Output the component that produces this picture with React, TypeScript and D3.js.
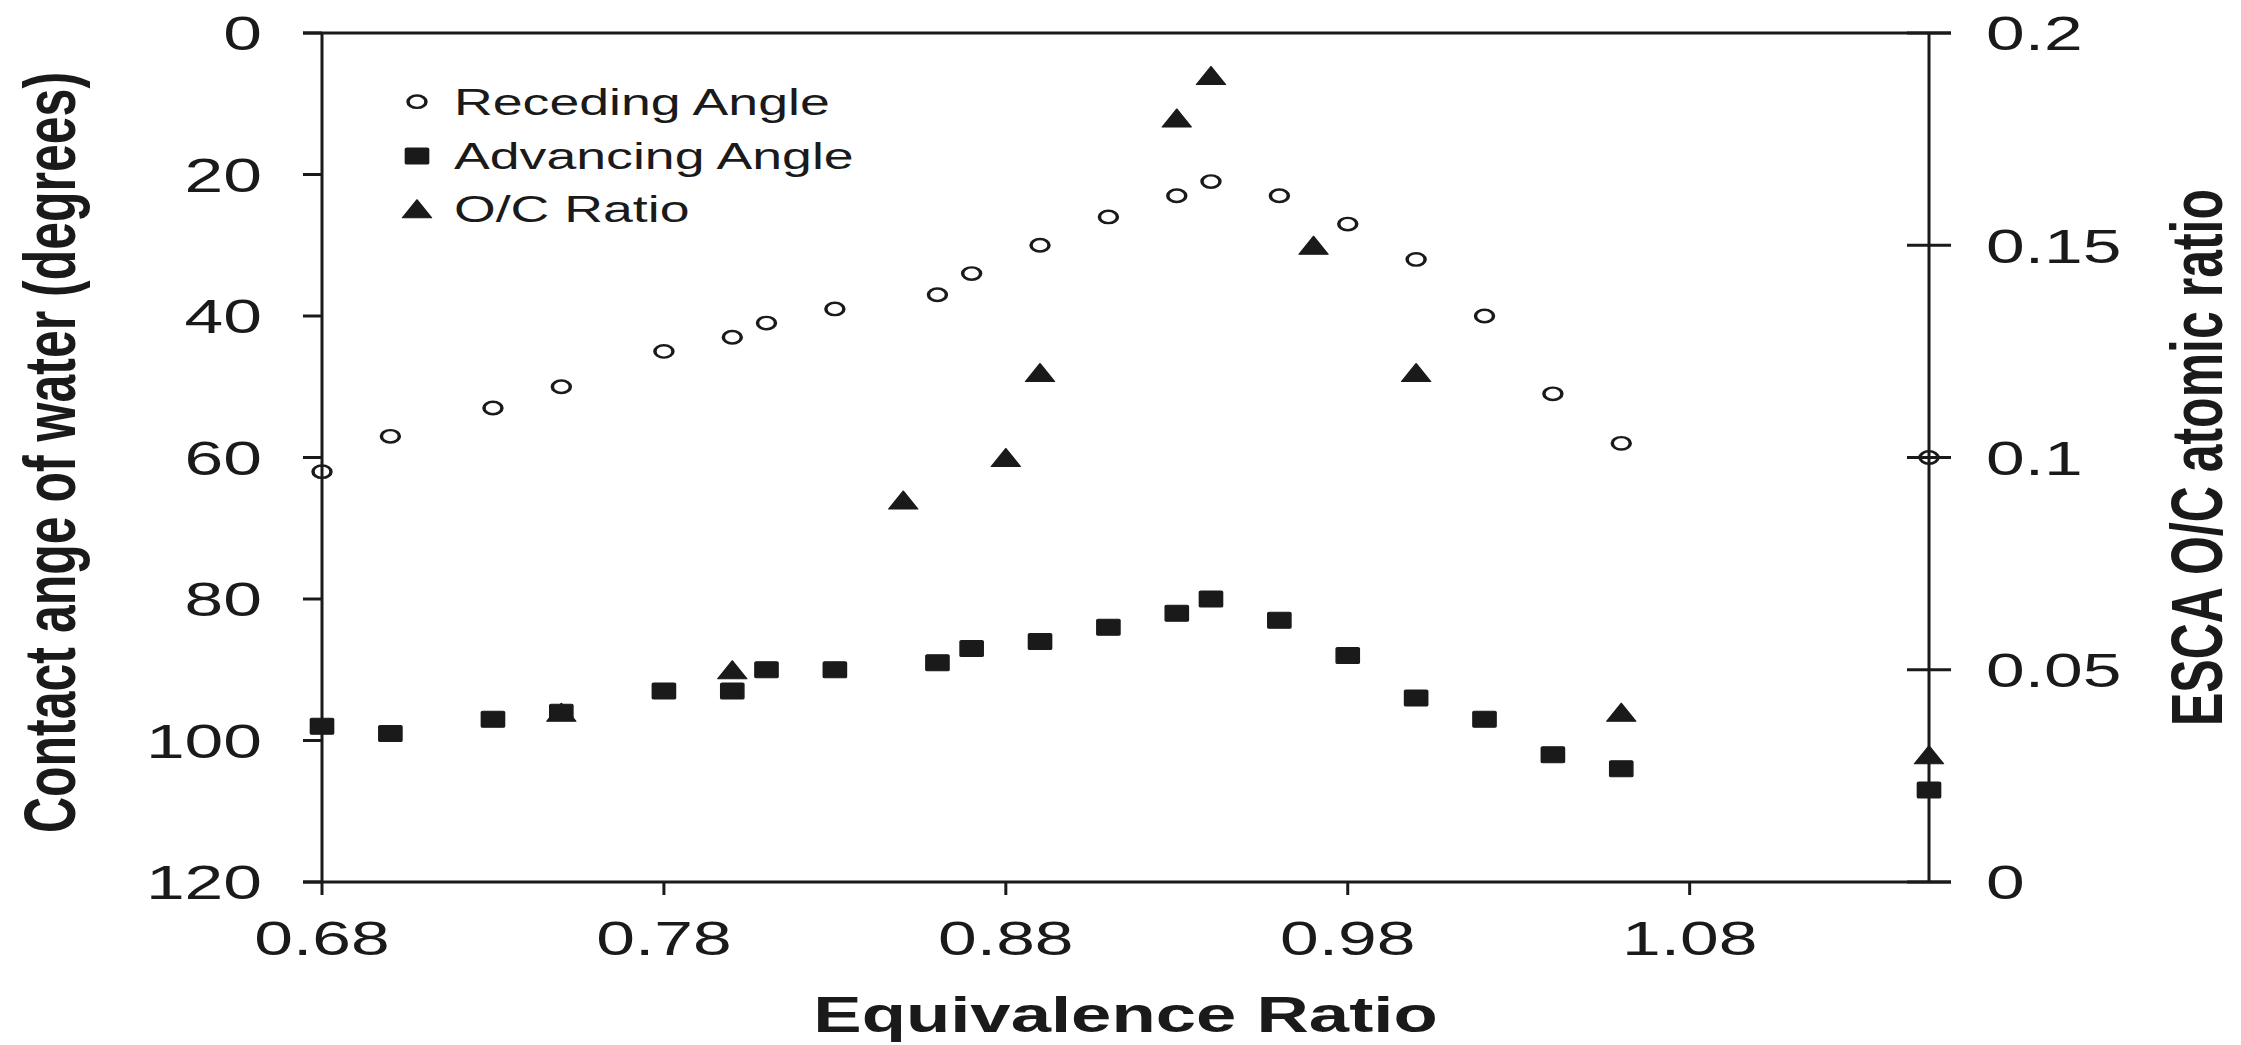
import { useEffect, useRef } from 'react';
import * as d3 from 'd3';

// equivalence ratio of each sample (receding and advancing share the same x values)
const phi = [0.68, 0.7, 0.73, 0.75, 0.78, 0.8, 0.81, 0.83, 0.86, 0.87, 0.89, 0.91, 0.93, 0.94, 0.96, 0.98, 1.0, 1.02, 1.04, 1.06, 1.15];
const recedingAngle = [62, 57, 53, 50, 45, 43, 41, 39, 37, 34, 30, 26, 23, 21, 23, 27, 32, 40, 51, 58, 60];
const advancingAngle = [98, 99, 97, 96, 93, 93, 90, 90, 89, 87, 86, 84, 82, 80, 83, 88, 94, 97, 102, 104, 107];

// ESCA O/C atomic ratio, measured on fewer samples
const ocPhi = [0.75, 0.8, 0.85, 0.88, 0.89, 0.93, 0.94, 0.97, 1.0, 1.06, 1.15];
const ocRatio = [0.04, 0.05, 0.09, 0.1, 0.12, 0.18, 0.19, 0.15, 0.12, 0.04, 0.03];

const angleTicks = [0, 20, 40, 60, 80, 100, 120];
const ratioTicks = [0, 0.05, 0.1, 0.15, 0.2];
const phiTicks = [0.68, 0.78, 0.88, 0.98, 1.08];
const legendLabels = ['Receding Angle', 'Advancing Angle', 'O/C Ratio'];

const WIDTH = 2241;
const HEIGHT = 1045;
const SX = 1.45; // the original figure is stretched horizontally
const FONT = '"Liberation Sans", Arial, Helvetica, sans-serif';
const INK = '#1a1a1a';

type Shape = 'circle' | 'square' | 'triangle';

export default function App() {
  const svgRef = useRef<SVGSVGElement>(null);

  useEffect(() => {
    if (!svgRef.current) return;
    const svg = d3.select(svgRef.current);
    svg.selectAll('*').remove();

    const left = 322 / SX;
    const right = 1929 / SX;
    const top = 33;
    const bottom = 882;

    const g = svg.append('g').attr('transform', `scale(${SX},1)`);

    const x = d3.scaleLinear().domain([0.68, 1.15]).range([left, right]);
    const yAngle = d3.scaleLinear().domain([0, 120]).range([top, bottom]);
    const yRatio = d3.scaleLinear().domain([0, 0.2]).range([bottom, top]);

    const axes = g.append('g')
      .attr('stroke', INK)
      .attr('stroke-width', 3);

    const seg = (x1: number, y1: number, x2: number, y2: number) =>
      axes.append('line')
        .attr('x1', x1).attr('y1', y1).attr('x2', x2).attr('y2', y2)
        .attr('vector-effect', 'non-scaling-stroke');

    const leftTick = 19 / SX;
    const rightTick = 22 / SX;

    // frame lines
    seg(left, top, left, bottom);
    seg(right, top, right, bottom);
    seg(left - leftTick, top, right + rightTick, top);
    seg(left - leftTick, bottom, right + rightTick, bottom);

    angleTicks.forEach(t => seg(left - leftTick, yAngle(t), left, yAngle(t)));
    ratioTicks.forEach(t => seg(right - rightTick, yRatio(t), right + rightTick, yRatio(t)));
    phiTicks.forEach(t => seg(x(t), bottom, x(t), bottom + 13));

    const label = g.append('g')
      .attr('fill', INK)
      .style('font-family', FONT)
      .style('font-size', '48px');

    label.selectAll('text.left')
      .data(angleTicks)
      .enter()
      .append('text')
      .attr('class', 'left')
      .attr('x', 262 / SX)
      .attr('y', d => yAngle(d))
      .attr('dy', '0.36em')
      .attr('text-anchor', 'end')
      .text(d => String(d));

    label.selectAll('text.right')
      .data(ratioTicks)
      .enter()
      .append('text')
      .attr('class', 'right')
      .attr('x', 1986 / SX)
      .attr('y', d => yRatio(d))
      .attr('dy', '0.36em')
      .attr('text-anchor', 'start')
      .text(d => String(d));

    label.selectAll('text.bottom')
      .data(phiTicks)
      .enter()
      .append('text')
      .attr('class', 'bottom')
      .attr('x', d => x(d))
      .attr('y', 955)
      .attr('text-anchor', 'middle')
      .text(d => d.toFixed(2));

    // axis titles
    const title = g.append('g')
      .attr('fill', INK)
      .style('font-family', FONT)
      .style('font-size', '50px')
      .style('font-weight', 'bold');

    title.append('text')
      .attr('x', (left + right) / 2)
      .attr('y', 1032)
      .attr('text-anchor', 'middle')
      .text('Equivalence Ratio');

    title.append('text')
      .attr('transform', `translate(${75 / SX},${(top + bottom) / 2 - 5}) rotate(-90)`)
      .attr('text-anchor', 'middle')
      .text('Contact ange of water (degrees)');

    title.append('text')
      .attr('transform', `translate(${2222 / SX},${(top + bottom) / 2}) rotate(-90)`)
      .attr('text-anchor', 'middle')
      .text('ESCA O/C atomic ratio');

    const drawMarker = (sel: d3.Selection<SVGGElement, unknown, null, undefined>, shape: Shape) => {
      if (shape === 'circle') {
        sel.append('circle')
          .attr('r', 6.2)
          .attr('fill', 'none')
          .attr('stroke', INK)
          .attr('stroke-width', 2.4);
      } else if (shape === 'square') {
        sel.append('rect')
          .attr('x', -8).attr('y', -8)
          .attr('width', 16).attr('height', 16)
          .attr('rx', 1)
          .attr('fill', INK)
          .attr('stroke', INK)
          .attr('stroke-width', 1)
          .attr('stroke-linejoin', 'round');
      } else {
        sel.append('path')
          .attr('d', 'M0,-9L10,9L-10,9Z')
          .attr('fill', INK)
          .attr('stroke', INK)
          .attr('stroke-width', 1)
          .attr('stroke-linejoin', 'round');
      }
    };

    const points = g.append('g');

    ocPhi.forEach((p, i) => {
      const m = points.append('g').attr('transform', `translate(${x(p)},${yRatio(ocRatio[i])})`);
      drawMarker(m, 'triangle');
    });
    phi.forEach((p, i) => {
      const m = points.append('g').attr('transform', `translate(${x(p)},${yAngle(advancingAngle[i])})`);
      drawMarker(m, 'square');
    });
    phi.forEach((p, i) => {
      const m = points.append('g').attr('transform', `translate(${x(p)},${yAngle(recedingAngle[i])})`);
      drawMarker(m, 'circle');
    });

    // legend
    const shapes: Shape[] = ['circle', 'square', 'triangle'];
    const rowY = [101.7, 156, 208.7];
    const legend = g.append('g');
    legendLabels.forEach((name, i) => {
      const m = legend.append('g').attr('transform', `translate(${417 / SX},${rowY[i]})`);
      drawMarker(m, shapes[i]);
      legend.append('text')
        .attr('x', 454 / SX)
        .attr('y', rowY[i] + 13.3)
        .attr('fill', INK)
        .style('font-family', FONT)
        .style('font-size', '37px')
        .text(name);
    });
  }, []);

  return (
    <svg
      ref={svgRef}
      width={WIDTH}
      height={HEIGHT}
      style={{ position: 'absolute', left: 0, top: 0, background: '#ffffff' }}
    />
  );
}
